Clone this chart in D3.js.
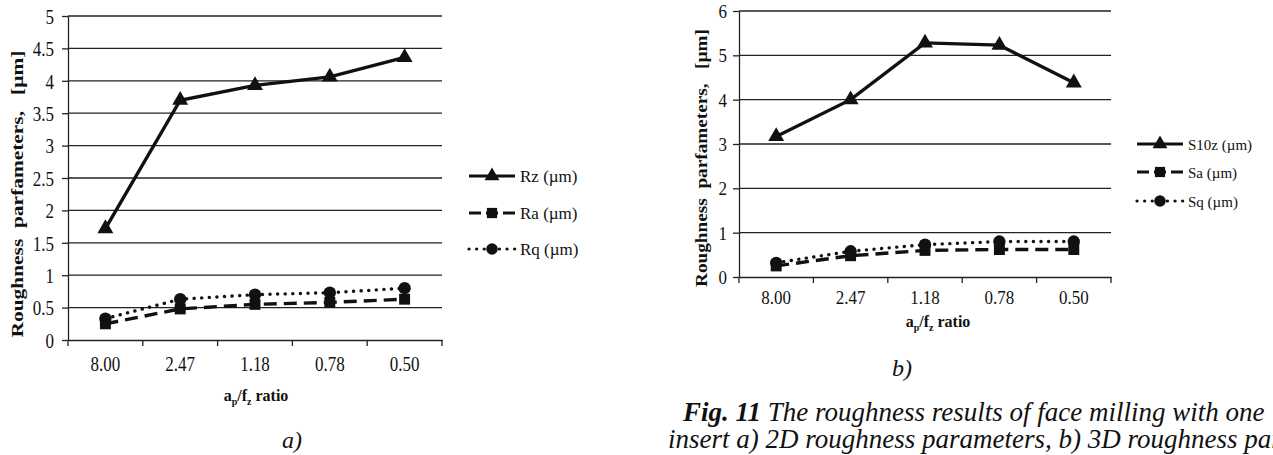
<!DOCTYPE html>
<html>
<head>
<meta charset="utf-8">
<script src="https://cdn.jsdelivr.net/npm/d3@7"></script>
<style>
  body { margin: 0; background: #fff; overflow: hidden; }
  text { font-family: "Liberation Serif", "Times New Roman", serif; fill: #111; }
</style>
</head>
<body>
<svg id="fig" width="1273" height="455"></svg>
<script>
const ratios = ["8.00", "2.47", "1.18", "0.78", "0.50"];

const rz = [1.72, 3.70, 3.93, 4.06, 4.36];
const ra = [0.25, 0.48, 0.55, 0.58, 0.63];
const rq = [0.33, 0.63, 0.70, 0.73, 0.80];

const s10z = [3.17, 4.00, 5.28, 5.23, 4.38];
const sa = [0.25, 0.48, 0.60, 0.62, 0.62];
const sq = [0.32, 0.58, 0.73, 0.80, 0.80];

const ticksA = [0, 0.5, 1, 1.5, 2, 2.5, 3, 3.5, 4, 4.5, 5];
const ticksB = [0, 1, 2, 3, 4, 5, 6];

const svg = d3.select("#fig");
const serif = "Liberation Serif";

const styles = [
  {dash: null, shape: d3.symbolTriangle},
  {dash: "13,7", shape: d3.symbolSquare},
  {dash: "0.1,7.5", shape: d3.symbolCircle}
];

const drawChart = (opt) => {
  const g = svg.append("g");
  const x = d3.scaleBand().domain(ratios).range([opt.left, opt.right]);
  const y = d3.scaleLinear().domain([0, opt.max]).range([opt.bottom, opt.top]);

  // gridlines
  g.selectAll("line.grid").data(opt.ticks.filter(t => t > 0)).enter().append("line")
    .attr("x1", opt.left).attr("x2", opt.right)
    .attr("y1", d => y(d)).attr("y2", d => y(d))
    .attr("stroke", "#222").attr("stroke-width", 1.3);

  const ya = g.append("g")
    .attr("transform", `translate(${opt.left},0)`)
    .call(d3.axisLeft(y).tickValues(opt.ticks).tickSize(6).tickSizeOuter(0)
      .tickFormat(d => d));
  ya.attr("font-family", serif);
  ya.select(".domain").attr("stroke", "#222").attr("stroke-width", 1.3);
  ya.selectAll(".tick line").attr("stroke", "#222").attr("stroke-width", 1.3);
  ya.selectAll(".tick text").attr("font-size", opt.fs).attr("x", -opt.yLabelGap)
    .attr("y", 0).attr("dy", "0.34em")
    .attr("font-family", serif).attr("fill", "#111")
    .attr("transform", `scale(1,${opt.stretch})`);

  const xa = g.append("g")
    .attr("transform", `translate(0,${opt.bottom})`)
    .call(d3.axisBottom(x).tickSize(0));
  xa.attr("font-family", serif);
  xa.select(".domain").attr("stroke", "#222").attr("stroke-width", 1.3);
  xa.selectAll(".tick text").attr("font-size", opt.fs).attr("dy", 0).attr("y", 0)
    .attr("font-family", serif).attr("fill", "#111")
    .attr("transform", `translate(0,${opt.labelDy}) scale(1,${opt.stretch})`);
  // tick marks at band boundaries
  g.selectAll("line.xt").data(ratios.concat(["end"])).enter().append("line")
    .attr("x1", (d, i) => opt.left + i * x.step()).attr("x2", (d, i) => opt.left + i * x.step())
    .attr("y1", opt.bottom).attr("y2", opt.bottom + 6)
    .attr("stroke", "#222").attr("stroke-width", 1.3);

  const line = d3.line().x((d, i) => x(ratios[i]) + x.bandwidth() / 2).y(d => y(d));

  opt.series.forEach((s, k) => {
    const st = styles[k];
    g.append("path").datum(s.values)
      .attr("d", line).attr("fill", "none").attr("stroke", "#111")
      .attr("stroke-width", 3.4).attr("stroke-linecap", k === 2 ? "round" : "butt")
      .attr("stroke-dasharray", st.dash);
    g.selectAll(null).data(s.values).enter().append("path")
      .attr("transform", (d, i) => `translate(${x(ratios[i]) + x.bandwidth() / 2},${y(d)})`)
      .attr("d", d3.symbol().type(st.shape).size(k === 0 ? 110 : 120))
      .attr("fill", "#111");

    // legend
    const ly = opt.legendY[k];
    g.append("line")
      .attr("x1", opt.legendX).attr("x2", opt.legendX + 46)
      .attr("y1", ly).attr("y2", ly)
      .attr("stroke", "#111").attr("stroke-width", 3.2)
      .attr("stroke-linecap", k === 2 ? "round" : "butt")
      .attr("stroke-dasharray", k === 1 ? "12,5" : st.dash);
    g.append("path")
      .attr("transform", `translate(${opt.legendX + 23},${ly})`)
      .attr("d", d3.symbol().type(st.shape).size(k === 0 ? 95 : 105))
      .attr("fill", "#111");
    g.append("text").attr("x", opt.legendX + 51).attr("y", ly + 5.5)
      .attr("font-size", opt.lfs).text(s.name);
  });

  // axis titles
  g.append("text")
    .attr("transform", `translate(${opt.yTitleX},${opt.yTitleY}) rotate(-90)`)
    .attr("text-anchor", "middle").attr("font-weight", "bold").attr("font-size", opt.yTitleFs)
    .attr("textLength", opt.yTitleLen).attr("lengthAdjust", "spacingAndGlyphs")
    .style("white-space", "pre")
    .text("Roughness  parfameters,   [µm]");

  const xt = g.append("text")
    .attr("x", opt.xTitleX).attr("y", opt.xTitleY)
    .attr("text-anchor", "middle").attr("font-weight", "bold").attr("font-size", 16);
  xt.append("tspan").text("a");
  xt.append("tspan").attr("font-size", 10).attr("dy", 4).text("p");
  xt.append("tspan").attr("dy", -4).text("/f");
  xt.append("tspan").attr("font-size", 10).attr("dy", 4).text("z");
  xt.append("tspan").attr("dy", -4).text(" ratio");

  g.append("text").attr("x", opt.subX).attr("y", opt.subY)
    .attr("text-anchor", "middle").attr("font-style", "italic").attr("font-size", 24)
    .text(opt.sub);
};

drawChart({
  left: 68, right: 442, top: 16, bottom: 340, max: 5, ticks: ticksA,
  fs: 17, stretch: 1.25, labelDy: 31, lfs: 17, yLabelGap: 14,
  series: [
    {name: "Rz (µm)", values: rz},
    {name: "Ra (µm)", values: ra},
    {name: "Rq (µm)", values: rq}
  ],
  legendX: 469, legendY: [176, 213, 249],
  yTitleX: 23, yTitleY: 194, yTitleLen: 287, yTitleFs: 17,
  xTitleX: 256, xTitleY: 401, subX: 292, subY: 448, sub: "a)"
});

drawChart({
  left: 739, right: 1111, top: 11, bottom: 277, max: 6, ticks: ticksB,
  fs: 17, stretch: 1.15, labelDy: 27, lfs: 15, yLabelGap: 12,
  series: [
    {name: "S10z (µm)", values: s10z},
    {name: "Sa (µm)", values: sa},
    {name: "Sq (µm)", values: sq}
  ],
  legendX: 1137, legendY: [144, 172, 201],
  yTitleX: 707, yTitleY: 158, yTitleLen: 258, yTitleFs: 16,
  xTitleX: 938, xTitleY: 327, subX: 902, subY: 376, sub: "b)"
});

// caption
const cap = svg.append("text").attr("x", 683).attr("y", 421)
  .attr("font-size", 27).attr("font-style", "italic");
cap.append("tspan").attr("font-weight", "bold").text("Fig. 11");
cap.append("tspan").text(" The roughness results of face milling with one");
svg.append("text").attr("x", 668).attr("y", 448)
  .attr("font-size", 27).attr("font-style", "italic")
  .text("insert a) 2D roughness parameters, b) 3D roughness parameters");
</script>
</body>
</html>
